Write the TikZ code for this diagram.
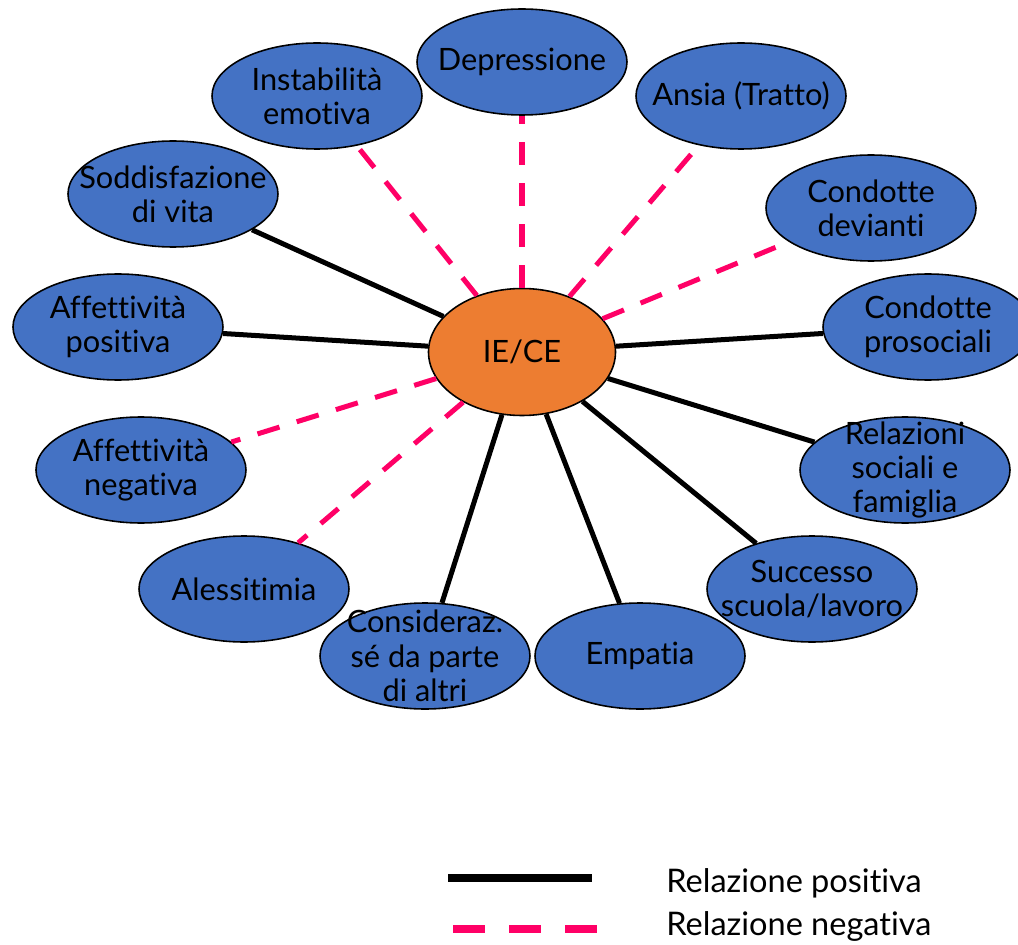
\documentclass[tikz,border=0pt]{standalone}
\usepackage{fontspec}
\setmainfont{Lato}[Ligatures={NoCommon}]
\usepackage{tikz}
\usetikzlibrary{shapes,positioning}
\definecolor{ieblue}{HTML}{4472C4}
\definecolor{ieorange}{HTML}{ED7D31}
\definecolor{iepink}{HTML}{FF0066}

\begin{document}
\begin{tikzpicture}[
    on grid,
    font=\fontsize{17.5}{19.5}\selectfont,
    factor/.style={draw, line width=0.9pt, ellipse, fill=ieblue, minimum width=4.2cm, minimum height=2.12cm, inner sep=0pt},
    txt/.style={align=center, inner sep=0pt},
    posline/.style={line width=2.85pt},
    negline/.style={line width=2.85pt, iepink, dash pattern=on 0.46cm off 0.36cm}
]
    \useasboundingbox (-10.44,7.04) rectangle (9.92,-11.84);

    \node [draw, line width=0.9pt, ellipse, fill=ieorange, minimum width=3.74cm, minimum height=2.54cm, inner sep=0pt] (iece) {IE/CE};

    \node [factor, above left=5.12cm and 4.10cm of iece, label={[txt]center:Instabilità\\emotiva}] (instab) {};
    \node [factor, above=5.80cm of iece, label={[txt]center:Depressione}] (depr) {};
    \node [factor, above right=5.12cm and 4.38cm of iece, label={[txt]center:Ansia (Tratto)}] (ansia) {};
    \node [factor, above right=2.88cm and 6.98cm of iece, label={[txt]center:Condotte\\devianti}] (devianti) {};
    \node [factor, above right=0.50cm and 8.12cm of iece, label={[txt]center:Condotte\\prosociali}] (prosoc) {};
    \node [factor, below right=2.36cm and 7.66cm of iece, label={[txt]center:Relazioni\\sociali e\\famiglia}] (relaz) {};
    \node [factor, below right=4.74cm and 5.80cm of iece, label={[txt]center:Successo\\scuola/lavoro}] (succ) {};
    \node [factor, below right=6.08cm and 2.36cm of iece, label={[txt]center:Empatia}] (empatia) {};
    \node [factor, below left=6.08cm and 1.94cm of iece, label={[txt]center:Consideraz.\\sé da parte\\di altri}] (consid) {};
    \node [factor, below left=4.74cm and 5.56cm of iece, label={[txt]center:Alessitimia}] (aless) {};
    \node [factor, below left=2.36cm and 7.62cm of iece, label={[txt]center:Affettività\\negativa}] (affneg) {};
    \node [factor, above left=0.50cm and 8.08cm of iece, label={[txt]center:Affettività\\positiva}] (affpos) {};
    \node [factor, above left=3.16cm and 6.98cm of iece, label={[txt]center:Soddisfazione\\di vita}] (soddisf) {};

    \draw [negline] (iece) -- (instab);
    \draw [negline] (iece) -- (depr);
    \draw [negline] (iece) -- (ansia);
    \draw [negline] (iece) -- (devianti);
    \draw [posline] (iece) -- (prosoc);
    \draw [posline] (iece) -- (relaz);
    \draw [posline] (iece) -- (succ);
    \draw [posline] (iece) -- (empatia);
    \draw [posline] (iece) -- (consid);
    \draw [negline] (iece) -- (aless);
    \draw [negline] (iece) -- (affneg);
    \draw [posline] (iece) -- (affpos);
    \draw [posline] (iece) -- (soddisf);

    % legenda
    \coordinate (posA) at (-1.48,-10.52);
    \coordinate (posB) at (1.40,-10.52);
    \coordinate (negA) at (-1.38,-11.54);
    \coordinate (negB) at (1.50,-11.54);
    \draw [line width=4.5pt] (posA) -- (posB);
    \draw [line width=4.5pt, iepink, dash pattern=on 0.64cm off 0.48cm] (negA) -- (negB);
    \node [anchor=base west, inner sep=0pt, font=\fontsize{18.5}{20}\selectfont] (postxt) at (2.88,-10.80) {Relazione positiva};
    \node [anchor=base west, inner sep=0pt, font=\fontsize{18.5}{20}\selectfont] (negtxt) at (2.88,-11.66) {Relazione negativa};
\end{tikzpicture}
\end{document}
